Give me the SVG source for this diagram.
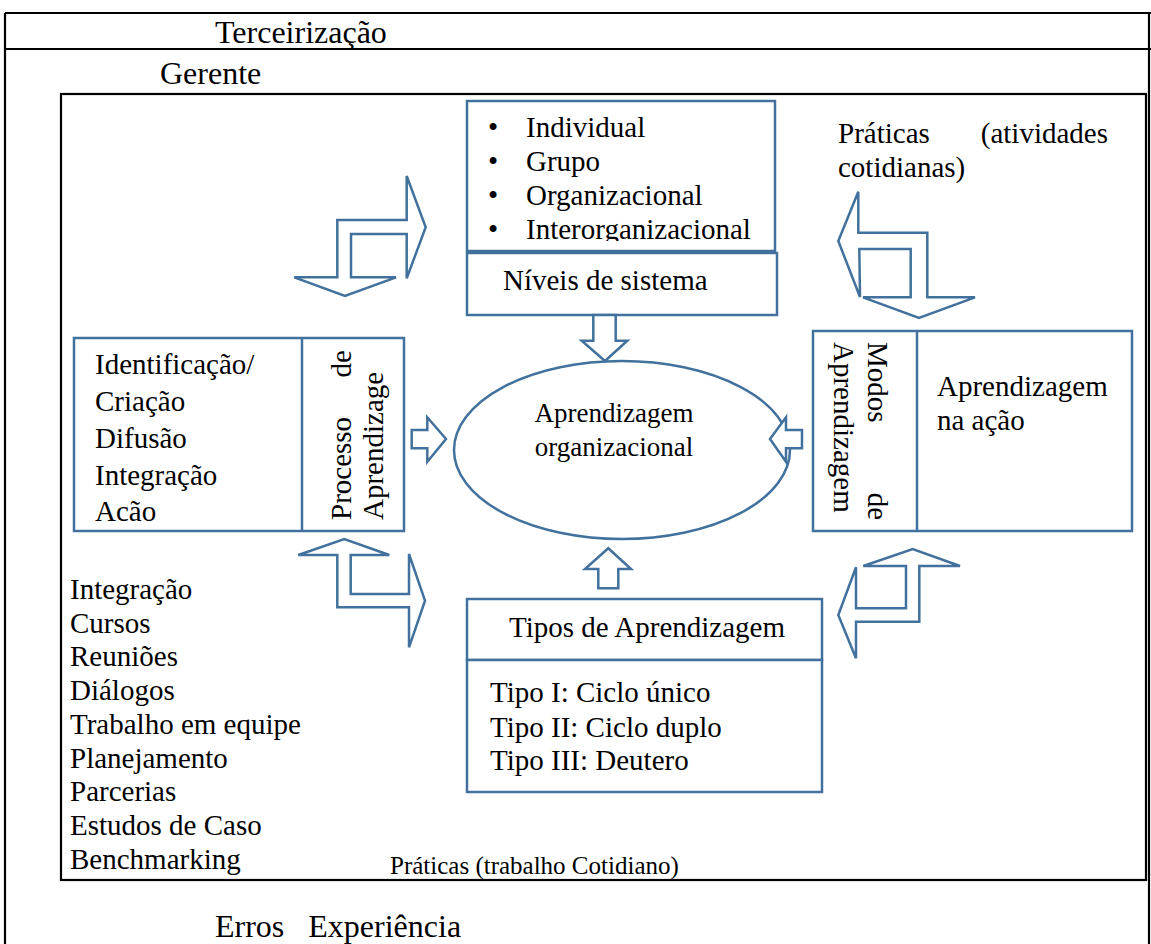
<svg xmlns="http://www.w3.org/2000/svg" width="1151" height="944" viewBox="0 0 1151 944">
<style>
.f{fill:none;stroke:#000;stroke-width:2.2}
.b{fill:#fff;stroke:#41719C;stroke-width:2.5}
.a{fill:#fff;stroke:#41719C;stroke-width:2.5;stroke-linejoin:miter}
.t{font-family:"Liberation Serif","Times New Roman",serif;font-size:29px;fill:#000}
.h{font-family:"Liberation Serif","Times New Roman",serif;font-size:32px;fill:#000}
.e{font-family:"Liberation Serif","Times New Roman",serif;font-size:27px;fill:#000}
.s{font-family:"Liberation Serif","Times New Roman",serif;font-size:25px;fill:#000}
</style>
<rect width="1151" height="944" fill="#fff"/>
<g id="frame">
<line class="f" x1="5" y1="13" x2="1151" y2="13"/>
<line class="f" x1="5" y1="49" x2="1151" y2="49"/>
<line class="f" x1="5" y1="13" x2="5" y2="944"/>
<line class="f" x1="1149" y1="13" x2="1149" y2="944"/>
<rect class="f" x="61" y="94" width="1085" height="786"/>
<text class="h" x="215" y="43">Terceirização</text>
<text class="h" x="160" y="84">Gerente</text>
<text class="h" x="215" y="937" xml:space="preserve">Erros   Experiência</text>
</g>
<g id="niveis">
<clipPath id="cl1"><rect x="467" y="101" width="308" height="140"/></clipPath>
<rect class="b" x="467" y="101" width="308" height="150"/>
<g clip-path="url(#cl1)">
<text class="t" x="488" y="137">•</text><text class="t" x="526" y="137">Individual</text>
<text class="t" x="488" y="171">•</text><text class="t" x="526" y="171">Grupo</text>
<text class="t" x="488" y="205">•</text><text class="t" x="526" y="205">Organizacional</text>
<text class="t" x="488" y="239">•</text><text class="t" x="526" y="239">Interorganizacional</text>
</g>
<rect class="b" x="467" y="253" width="310" height="62"/>
<text class="t" x="503" y="290">Níveis de sistema</text>
</g>
<g id="processo">
<rect class="b" x="74" y="338" width="330" height="193"/>
<line class="b" x1="302" y1="338" x2="302" y2="531"/>
<text class="t" x="95" y="374">Identificação/</text>
<text class="t" x="95" y="411">Criação</text>
<text class="t" x="95" y="448">Difusão</text>
<text class="t" x="95" y="485">Integração</text>
<text class="t" x="95" y="521">Acão</text>
<g transform="translate(351,520) rotate(-90)">
<text class="t" x="0" y="0">Processo</text>
<text class="t" x="170" y="0" text-anchor="end">de</text>
<text class="t" x="0" y="32">Aprendizage</text>
</g>
</g>
<g id="modos">
<rect class="b" x="813" y="331" width="319" height="200"/>
<line class="b" x1="917" y1="331" x2="917" y2="531"/>
<g transform="translate(868,342) rotate(90)">
<text class="t" x="0" y="0">Modos</text>
<text class="t" x="178" y="0" text-anchor="end">de</text>
<text class="t" x="0" y="34">Aprendizagem</text>
</g>
<text class="t" x="937" y="396">Aprendizagem</text>
<text class="t" x="937" y="430">na ação</text>
</g>
<g id="aprendizagem-organizacional">
<ellipse class="b" cx="622" cy="450" rx="168" ry="89"/>
<text class="e" x="614" y="422" text-anchor="middle">Aprendizagem</text>
<text class="e" x="614" y="456" text-anchor="middle">organizacional</text>
</g>
<g id="tipos">
<rect class="b" x="467" y="599" width="355" height="61"/>
<rect class="b" x="467" y="660" width="355" height="132"/>
<text class="t" x="509" y="637">Tipos de Aprendizagem</text>
<text class="t" x="490" y="702">Tipo I: Ciclo único</text>
<text class="t" x="490" y="737">Tipo II: Ciclo duplo</text>
<text class="t" x="490" y="770">Tipo III: Deutero</text>
</g>
<g id="praticas-atividades">
<text class="t" x="838" y="143">Práticas</text>
<text class="t" x="1108" y="143" text-anchor="end">(atividades</text>
<text class="t" x="838" y="177">cotidianas)</text>
</g>
<g id="praticas-lista">
<text class="t" x="70" y="599">Integração</text>
<text class="t" x="70" y="633">Cursos</text>
<text class="t" x="70" y="666">Reuniões</text>
<text class="t" x="70" y="700">Diálogos</text>
<text class="t" x="70" y="734">Trabalho em equipe</text>
<text class="t" x="70" y="768">Planejamento</text>
<text class="t" x="70" y="801">Parcerias</text>
<text class="t" x="70" y="835">Estudos de Caso</text>
<text class="t" x="70" y="869">Benchmarking</text>
<text class="s" x="390" y="874">Práticas (trabalho Cotidiano)</text>
</g>
<g id="connectors">
<polygon class="a" points="593.3,315 615.7,315 615.7,340.7 627.3,340.7 605,361 581.7,340.7 593.3,340.7"/>
<polygon class="a" points="598.3,588.3 618.3,588.3 618.3,569 631,569 608.3,548.3 585,569 598.3,569"/>
<polygon class="a" points="411.7,430 427.3,430 427.3,417.3 446,439 427.3,461.7 427.3,448.3 411.7,448.3"/>
<polygon class="a" points="802,430 786,430 786,417.3 770,439 786,461.7 786,448.3 802,448.3"/>
<polygon class="a" points="406.7,176 425.7,227.3 406.7,278.3 406.7,234 351,234 351,277.3 396,277.3 345,296 294.3,277.3 337.3,277.3 337.3,220 406.7,220"/>
<polygon class="a" points="858.3,191.7 838.3,241 860,297 859.3,249 910.7,249 910.7,297.3 863,297.3 919,318 975,297.3 927.3,297.3 927.3,232.7 858.3,232.7"/>
<polygon class="a" points="298.3,555 344.3,539 389.3,555 350.7,555 350.7,594 409,594 409,554 425,600.7 409,647.3 409,607.3 337.3,607.3 337.3,555"/>
<polygon class="a" points="863.3,566 912.7,549 960,566 919.3,566 919.3,621.7 856,621.7 856,658.3 838.3,615 856,567.3 856,608.3 906,608.3 906,566"/>
</g>
</svg>
